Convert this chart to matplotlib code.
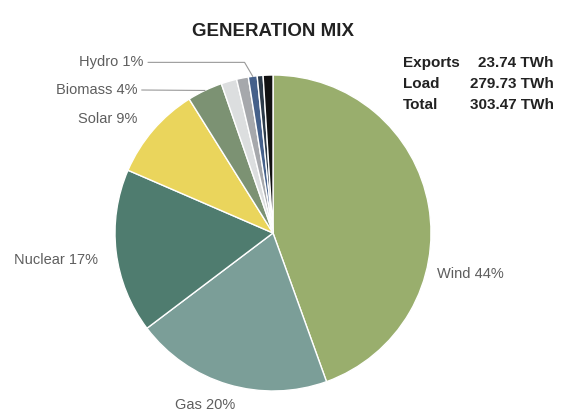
import numpy as np
import matplotlib
matplotlib.use("Agg")
import matplotlib.pyplot as plt

plt.rcParams["font.family"] = ["Liberation Sans", "DejaVu Sans"]

# generation shares (%), clockwise from 12 o'clock
sources = ["Wind", "Gas", "Nuclear", "Solar", "Biomass", "Other A", "Other B", "Hydro", "Other C", "Other D"]
shares = [44.5, 20.2, 16.8, 9.6, 3.6, 1.6, 1.2, 0.9, 0.6, 1.0]
labels = ["Wind 44%", "Gas 20%", "Nuclear 17%", "Solar 9%", "Biomass 4%", "", "", "Hydro 1%", "", ""]
colors = ["#99ae6d", "#7b9e98", "#4f7c6f", "#ead55c", "#7c9273",
          "#dcdedf", "#a6a8ac", "#45608a", "#2c3a48", "#111111"]

stat_names = ["Exports", "Load", "Total"]
stat_values = ["23.74 TWh", "279.73 TWh", "303.47 TWh"]

W, H = 568, 412
fig = plt.figure(figsize=(W / 100, H / 100), dpi=100)
cx, cy, r = 273, 233, 158
ax = fig.add_axes([(cx - r) / W, (H - cy - r) / H, 2 * r / W, 2 * r / H])

wedges, _ = ax.pie(shares, colors=colors, startangle=90, counterclock=False,
                   wedgeprops=dict(edgecolor="white", linewidth=1.0))
ax.set_xlim(-1, 1)
ax.set_ylim(-1, 1)
ax.set_aspect("equal")
ax.axis("off")

txt = dict(fontsize=10.5, color="#5e5e5e")

def mid(i):
    w = wedges[i]
    a = np.deg2rad((w.theta1 + w.theta2) / 2)
    return np.cos(a), np.sin(a)

# big slices: labels outside
ax.text(1.04, -0.26, labels[0], ha="left", va="center", **txt)
ax.text(-0.43, -1.09, labels[1], ha="center", va="center", **txt)
ax.text(-1.11, -0.17, labels[2], ha="right", va="center", **txt)
ax.text(-0.86, 0.72, labels[3], ha="right", va="center", **txt)

# small slices: labels with leader lines
for i, ty, tx, elbow in [(4, 0.905, -0.86, None), (7, 1.08, -0.82, -0.18)]:
    x, y = mid(i)
    ax.text(tx, ty, labels[i], ha="right", va="center", **txt)
    if elbow is None:
        xs, ys = [tx + 0.03, x], [ty, y]
    else:
        xs, ys = [tx + 0.03, elbow, x], [ty, ty, y]
    ax.plot(xs, ys, color="#999999", lw=0.8, clip_on=False)

fig.text(cx / W, 1 - 32 / H, "GENERATION MIX", ha="center", va="center",
         fontsize=13.5, fontweight="bold", color="#222222")

for k, (n, v) in enumerate(zip(stat_names, stat_values)):
    yy = 1 - (67 + 21 * k) / H
    fig.text(403 / W, yy, n, ha="left", va="baseline", fontsize=11, fontweight="bold", color="#222222")
    fig.text(554 / W, yy, v, ha="right", va="baseline", fontsize=11, fontweight="bold", color="#222222")

fig.savefig("out.png", dpi=100)
